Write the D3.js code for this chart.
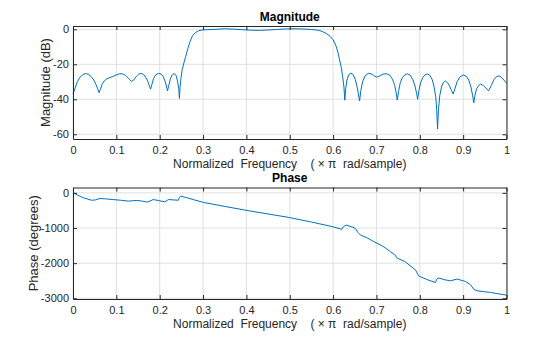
<!DOCTYPE html>
<html><head><meta charset="utf-8">
<script src="https://cdn.jsdelivr.net/npm/d3@7"></script>
<style>
body{margin:0;background:#fff;}
svg{display:block;font-family:"Liberation Sans",Arial,Helvetica,sans-serif;}
</style></head>
<body><svg id="c" width="560" height="337"></svg>
<script>
// Normalized frequency (x pi rad/sample) and magnitude (dB)
const magFreq = [0.000,0.005,0.010,0.016,0.022,0.028,0.035,0.042,0.048,0.053,0.057,0.060,0.063,0.067,0.072,0.078,0.085,0.092,0.100,0.108,0.115,0.122,0.128,0.135,0.140,0.146,0.151,0.157,0.163,0.168,0.173,0.177,0.179,0.182,0.186,0.191,0.197,0.203,0.208,0.213,0.216,0.218,0.221,0.225,0.229,0.234,0.238,0.241,0.244,0.2455,0.247,0.249,0.252,0.256,0.260,0.265,0.270,0.276,0.283,0.290,0.300,0.310,0.330,0.350,0.370,0.390,0.410,0.430,0.450,0.470,0.490,0.510,0.530,0.550,0.565,0.575,0.585,0.593,0.600,0.606,0.611,0.615,0.619,0.622,0.625,0.627,0.629,0.632,0.636,0.641,0.646,0.651,0.655,0.658,0.661,0.664,0.668,0.674,0.682,0.690,0.696,0.701,0.707,0.715,0.724,0.731,0.737,0.742,0.746,0.748,0.751,0.755,0.760,0.766,0.772,0.778,0.784,0.789,0.793,0.795,0.798,0.802,0.807,0.812,0.818,0.824,0.829,0.833,0.837,0.839,0.841,0.843,0.846,0.850,0.854,0.859,0.864,0.869,0.873,0.877,0.881,0.886,0.892,0.900,0.907,0.913,0.918,0.922,0.9245,0.927,0.931,0.936,0.940,0.946,0.952,0.959,0.965,0.971,0.977,0.982,0.988,0.994,1.000];
const magDb = [-37.0,-33.5,-30.0,-27.5,-26.0,-25.3,-25.6,-27.0,-29.0,-31.5,-34.0,-36.2,-34.5,-31.5,-29.5,-28.3,-27.6,-27.0,-26.0,-25.4,-25.5,-26.5,-28.0,-29.8,-29.0,-27.0,-25.7,-25.2,-25.8,-27.5,-30.0,-33.0,-34.2,-31.5,-28.0,-26.0,-25.2,-25.5,-27.0,-30.0,-33.0,-35.2,-32.0,-28.0,-26.0,-25.3,-26.5,-29.5,-34.0,-39.5,-33.0,-28.0,-23.0,-19.0,-15.5,-11.0,-7.0,-3.5,-1.8,-0.8,-0.3,-0.2,0.0,0.3,0.1,-0.2,-0.5,-0.6,-0.4,-0.1,0.2,0.3,0.2,-0.1,-0.5,-1.2,-2.5,-4.0,-6.0,-9.0,-13.0,-17.5,-22.0,-27.0,-33.0,-40.5,-34.0,-29.0,-26.0,-25.0,-25.8,-28.5,-32.5,-36.5,-41.0,-35.0,-30.0,-26.5,-25.1,-25.7,-26.8,-27.3,-26.7,-25.6,-25.4,-26.3,-28.5,-32.0,-37.0,-40.4,-35.5,-30.5,-27.5,-25.9,-25.5,-26.3,-28.8,-32.5,-37.0,-40.0,-35.0,-30.5,-27.5,-26.0,-25.5,-26.5,-29.0,-33.0,-39.0,-46.0,-57.0,-46.0,-38.0,-33.0,-30.5,-29.5,-30.5,-32.5,-35.0,-37.0,-34.0,-30.0,-27.3,-26.1,-26.8,-29.0,-33.0,-38.0,-42.0,-38.0,-34.0,-32.0,-31.3,-32.0,-33.5,-35.1,-32.0,-28.8,-27.0,-26.6,-27.3,-29.0,-30.8];
// Phase (degrees)
const phFreq = [0.000,0.010,0.024,0.043,0.052,0.062,0.075,0.093,0.110,0.128,0.147,0.160,0.172,0.180,0.185,0.198,0.212,0.220,0.232,0.243,0.245,0.248,0.259,0.280,0.301,0.350,0.401,0.450,0.497,0.550,0.600,0.620,0.624,0.630,0.645,0.651,0.657,0.663,0.680,0.694,0.715,0.732,0.742,0.748,0.765,0.790,0.797,0.815,0.836,0.840,0.844,0.860,0.871,0.886,0.905,0.917,0.925,0.932,0.950,0.963,0.980,0.994,1.000];
const phDeg = [10,-60,-140,-210,-200,-160,-170,-190,-210,-235,-215,-235,-262,-220,-190,-220,-255,-190,-200,-210,-140,-95,-125,-200,-272,-385,-499,-600,-697,-830,-965,-1037,-960,-915,-975,-1010,-1120,-1198,-1290,-1388,-1520,-1671,-1760,-1858,-1950,-2190,-2360,-2460,-2550,-2440,-2425,-2480,-2501,-2453,-2520,-2615,-2750,-2785,-2815,-2833,-2870,-2898,-2910];

const xTicks = [0,0.1,0.2,0.3,0.4,0.5,0.6,0.7,0.8,0.9,1];
const magTicks = [0,-20,-40,-60];
const phTicks = [0,-1000,-2000,-3000];

const svg = d3.select("#c");
const L = 73, R = 506.5;
const FONT = "'Liberation Sans',Arial,Helvetica,sans-serif";

function panel(cfg){
  const x = d3.scaleLinear().domain([0,1]).range([L,R]);
  const y = d3.scaleLinear().domain(cfg.yDomain).range([cfg.bottom,cfg.top]);
  const g = svg.append("g");
  // grid
  g.selectAll(".gx").data(xTicks).join("line")
    .attr("x1",d=>x(d)).attr("x2",d=>x(d)).attr("y1",cfg.top).attr("y2",cfg.bottom)
    .attr("stroke","#e0e0e0").attr("stroke-width",1);
  g.selectAll(".gy").data(cfg.yTicks).join("line")
    .attr("x1",L).attr("x2",R).attr("y1",d=>y(d)).attr("y2",d=>y(d))
    .attr("stroke","#e0e0e0").attr("stroke-width",1);
  // data line
  const pts = cfg.xs.map((v,i)=>[v,cfg.ys[i]]);
  g.append("path").datum(pts)
    .attr("d", d3.line().x(d=>x(d[0])).y(d=>y(d[1])))
    .attr("fill","none").attr("stroke","#0072BD").attr("stroke-width",1).attr("stroke-linejoin","round");
  // axes
  const col = "#262626";
  const ax = g.append("g").attr("transform",`translate(0,${cfg.bottom})`)
    .call(d3.axisBottom(x).tickValues(xTicks).tickSizeInner(-4).tickSizeOuter(0).tickPadding(7.5).tickFormat(d3.format("~g")));
  const axT = g.append("g").attr("transform",`translate(0,${cfg.top})`)
    .call(d3.axisTop(x).tickValues(xTicks).tickSizeInner(-4).tickSizeOuter(0).tickFormat(""));
  const ay = g.append("g").attr("transform",`translate(${L},0)`)
    .call(d3.axisLeft(y).tickValues(cfg.yTicks).tickSizeInner(-4).tickSizeOuter(0).tickPadding(4).tickFormat(d=>String(d)));
  const ayR = g.append("g").attr("transform",`translate(${R},0)`)
    .call(d3.axisRight(y).tickValues(cfg.yTicks).tickSizeInner(-4).tickSizeOuter(0).tickFormat(""));
  [ax,axT,ay,ayR].forEach(a=>{
    a.select(".domain").attr("stroke",col).attr("stroke-width",1);
    a.selectAll(".tick line").attr("stroke",col);
    a.selectAll("text").attr("fill",col).style("font-size","11px").style("font-family",FONT);
  });
  // titles and labels
  g.append("text").attr("x",(L+R)/2).attr("y",cfg.top-5.5).attr("text-anchor","middle")
    .style("font-size","12px").style("font-weight","bold").attr("fill","#000").text(cfg.title);
  g.append("text").attr("x",(L+R)/2).attr("y",cfg.bottom+29).attr("text-anchor","middle")
    .style("font-size","12px").style("white-space","pre").attr("fill",col)
    .text("Normalized  Frequency    ( \u00d7 \u03c0  rad/sample)");
  g.append("text").attr("transform",`translate(${cfg.ylabX},${(cfg.top+cfg.bottom)/2}) rotate(-90)`)
    .attr("text-anchor","middle").style("font-size","13px").attr("fill",col).text(cfg.ylabel);
}

panel({xs:magFreq, ys:magDb, yDomain:[-62.7,1.9], top:26, bottom:139, yTicks:magTicks,
  title:"Magnitude", ylabel:"Magnitude (dB)", ylabX:50});
panel({xs:phFreq, ys:phDeg, yDomain:[-3020,153], top:187.5, bottom:299, yTicks:phTicks,
  title:"Phase", ylabel:"Phase (degrees)", ylabX:37.5});
</script></body></html>
